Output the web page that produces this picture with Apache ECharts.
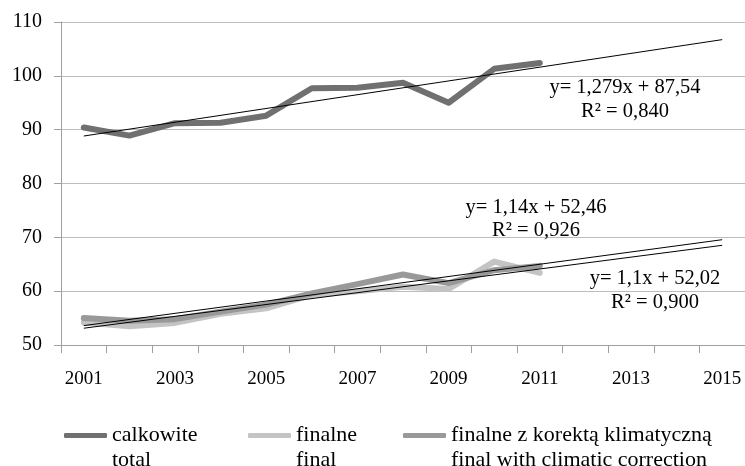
<!DOCTYPE html>
<html><head><meta charset="utf-8">
<script src="https://cdn.jsdelivr.net/npm/echarts@6/dist/echarts.min.js"></script>
<style>html,body{margin:0;padding:0;background:#fff}#c{width:745px;height:466px}</style>
</head><body><div id="c"></div>
<script>
// ---- data ----
const years = ['2001','2002','2003','2004','2005','2006','2007','2008','2009','2010','2011','2012','2013','2014','2015'];
const total   = [90.4, 88.9, 91.2, 91.3, 92.6, 97.7, 97.8, 98.7, 95.0, 101.3, 102.4];
const finalne = [54.2, 53.5, 54.1, 55.8, 56.8, 59.3, 60.0, 60.8, 60.4, 65.5, 63.4];
const korekta = [55.0, 54.5, 54.8, 56.2, 57.5, 59.6, 61.3, 63.1, 61.5, 63.9, 64.7];
// trend lines: [slope, intercept], x = 1 for 2001
const trendTotal   = [1.279, 87.54];
const trendFinal   = [1.1, 52.02];
const trendKorekta = [1.14, 52.46];
const seriesNames = ['calkowite\ntotal', 'finalne\nfinal', 'finalne z korektą klimatyczną\nfinal with climatic correction'];
const eqTotal   = 'y= 1,279x + 87,54\nR² = 0,840';
const eqKorekta = 'y= 1,14x + 52,46\nR² = 0,926';
const eqFinal   = 'y= 1,1x + 52,02\nR² = 0,900';

const FONT = 'Liberation Serif';
function trendData(t) {
  const n = years.length;
  return [[years[0], t[0] * 1 + t[1]], [years[n - 1], t[0] * n + t[1]]];
}
function lineSeries(name, data, color, z) {
  return {
    name, type: 'line', data, symbol: 'none', z,
    lineStyle: { color, width: 6, cap: 'round', join: 'round' },
    itemStyle: { color }
  };
}
function trendSeries(t) {
  return {
    type: 'line', data: trendData(t), symbol: 'none', z: 10, silent: true,
    lineStyle: { color: '#000', width: 1 }
  };
}
const colors = ['#707070', '#c4c4c4', '#999999'];
const legendLeft = [64, 248, 403];
const legendRich = { t: { fontFamily: FONT, fontSize: 22, lineHeight: 25, color: '#000' } };

const chart = echarts.init(document.getElementById('c'), null, { renderer: 'canvas' });
chart.setOption({
  animation: false,
  backgroundColor: '#fff',
  textStyle: { fontFamily: FONT },
  grid: { left: 61, top: 22, width: 686, height: 323, containLabel: false },
  xAxis: {
    type: 'category', data: years, boundaryGap: true,
    axisLine: { lineStyle: { color: '#a0a0a0', width: 1 } },
    axisTick: { show: true, interval: 0, length: 8, lineStyle: { color: '#a0a0a0' } },
    axisLabel: { interval: 1, fontFamily: FONT, fontSize: 19, color: '#000', margin: 25 },
    splitLine: { show: false }
  },
  yAxis: {
    type: 'value', min: 50, max: 110, interval: 10,
    axisLine: { show: true, lineStyle: { color: '#a0a0a0', width: 1 } },
    axisTick: { show: true, length: 7, lineStyle: { color: '#a0a0a0' } },
    axisLabel: { fontFamily: FONT, fontSize: 20, color: '#000', margin: 19 },
    splitLine: { show: true, lineStyle: { color: '#bcbcbc', width: 1 } }
  },
  legend: [0, 1, 2].map(i => ({
    data: [seriesNames[i]], left: legendLeft[i], top: 398, padding: 0,
    itemWidth: 43, itemHeight: 5, icon: 'roundRect', selectedMode: false,
    itemStyle: { color: colors[i] },
    formatter: name => '{t| }\n' + name.split('\n').map(s => '{t|' + s + '}').join('\n'),
    textStyle: { fontFamily: FONT, fontSize: 22, lineHeight: 25, color: '#000', rich: legendRich }
  })),
  series: [
    lineSeries(seriesNames[0], total, colors[0], 3),
    lineSeries(seriesNames[1], finalne, colors[1], 3),
    lineSeries(seriesNames[2], korekta, colors[2], 4),
    trendSeries(trendTotal),
    trendSeries(trendFinal),
    trendSeries(trendKorekta)
  ],
  graphic: [
    { type: 'text', x: 625, y: 100, z: 20, style: { text: eqTotal, font: '20.5px "Liberation Serif"', fill: '#000', align: 'center', verticalAlign: 'middle', lineHeight: 24 } },
    { type: 'text', x: 536, y: 219, z: 20, style: { text: eqKorekta, font: '20.5px "Liberation Serif"', fill: '#000', align: 'center', verticalAlign: 'middle', lineHeight: 23 } },
    { type: 'text', x: 655, y: 291, z: 20, style: { text: eqFinal, font: '20.5px "Liberation Serif"', fill: '#000', align: 'center', verticalAlign: 'middle', lineHeight: 24 } }
  ]
});
</script></body></html>
